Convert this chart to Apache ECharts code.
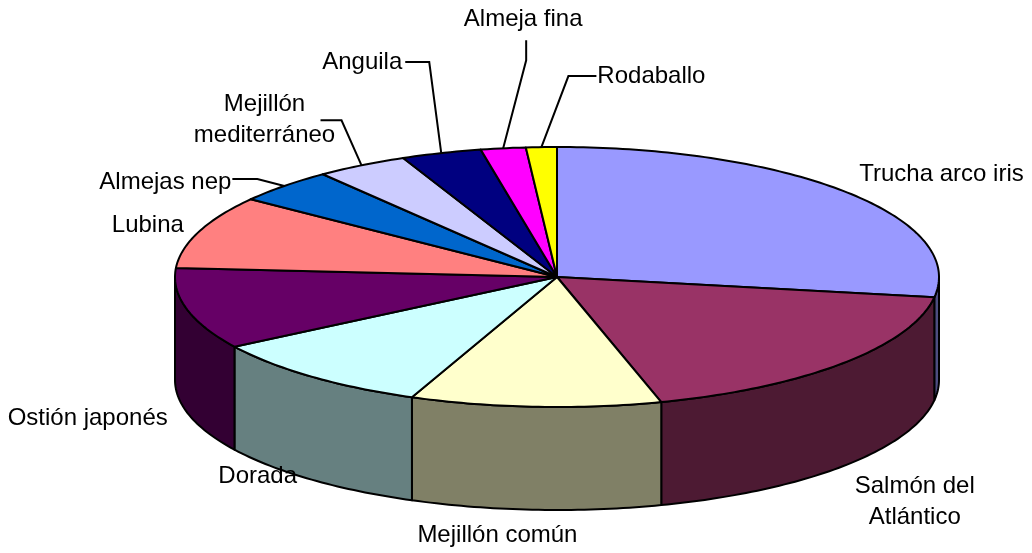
<!DOCTYPE html>
<html>
<head>
<meta charset="utf-8">
<script src="https://cdn.jsdelivr.net/npm/echarts@6/dist/echarts.min.js"></script>
<style>
html, body { margin: 0; padding: 0; background: #fff; }
#main { width: 1032px; height: 553px; }
</style>
</head>
<body>
<div id="main"></div>
<script>
// categories and shares
var species = ['Trucha arco iris', 'Salmón del\nAtlántico', 'Mejillón común', 'Dorada', 'Ostión japonés',
    'Lubina', 'Almejas nep', 'Mejillón\nmediterráneo', 'Anguila', 'Almeja fina', 'Rodaballo'];
var shares = [27.5, 18.1, 10.6, 9.8, 10.1, 9.1, 4.3, 3.9, 3.4, 1.9, 1.3];
var colors = ['#9999FF', '#993366', '#FFFFCC', '#CCFFFF', '#660066', '#FF8080',
    '#0066CC', '#CCCCFF', '#000080', '#FF00FF', '#FFFF00'];

// label placement relative to the slice's rim point (layout only)
var labelLayout = [
    { dx: 94, dy: -18 },
    { dx: 72, dy: 139 },
    { dx: -38, dy: 129 },
    { dx: -54, dy: 100 },
    { dx: -99, dy: 109 },
    { dx: -51, dy: -6 },
    { dx: -119, dy: -4, line: [[-27, -7], [-52, -7]] },
    { dx: -97, dy: -45, line: [[-20, -45], [-41, -45]] },
    { dx: -79, dy: -91, line: [[-12, -91], [-36, -91]] },
    { dx: 20, dy: -129, line: [[23, -88], [23, -108]] },
    { dx: 110, dy: -71, line: [[27, -71], [55, -71]] }
];

var pie = { cx: 557, cy: 277, rx: 382, ry: 130, depth: 103 };
var FONT = '24px "Liberation Sans", Arial, sans-serif';

var total = shares.reduce(function (s, v) { return s + v; }, 0);
var starts = [];
var acc = 0;
for (var i = 0; i < shares.length; i++) {
    starts.push(acc);
    acc += shares[i];
}

function pt(deg, dy) {
    var r = deg * Math.PI / 180;
    return [pie.cx + pie.rx * Math.sin(r), pie.cy - pie.ry * Math.cos(r) + (dy || 0)];
}

function arc(a, b, dy) {
    var pts = [];
    var n = Math.max(2, Math.ceil(Math.abs(b - a)));
    for (var k = 0; k <= n; k++) {
        pts.push(pt(a + (b - a) * k / n, dy));
    }
    return pts;
}

function shade(hex, k) {
    var n = parseInt(hex.slice(1), 16);
    var r = Math.round(((n >> 16) & 255) * k);
    var g = Math.round(((n >> 8) & 255) * k);
    var b = Math.round((n & 255) * k);
    return 'rgb(' + r + ',' + g + ',' + b + ')';
}

function renderItem(params, api) {
    var i = params.dataIndex;
    var v = api.value(0);
    var a = starts[i] / total * 360;
    var b = a + v / total * 360;
    var children = [];

    // side wall, only the front half is visible
    var lo = Math.max(a, 90), hi = Math.min(b, 270);
    if (lo < hi) {
        children.push({
            type: 'polygon',
            z2: 1,
            shape: { points: arc(lo, hi, 0).concat(arc(hi, lo, pie.depth)) },
            style: { fill: shade(colors[i], 0.5), stroke: '#000', lineWidth: 2, lineJoin: 'round' }
        });
    }

    // top face
    children.push({
        type: 'polygon',
        z2: 10,
        shape: { points: [[pie.cx, pie.cy]].concat(arc(a, b, 0)) },
        style: { fill: colors[i], stroke: '#000', lineWidth: 2, lineJoin: 'round' }
    });

    // label
    var rim = pt((a + b) / 2, 0);
    var lay = labelLayout[i];
    children.push({
        type: 'text',
        z2: 20,
        style: {
            x: rim[0] + lay.dx,
            y: rim[1] + lay.dy,
            text: species[i],
            font: FONT,
            fill: '#000',
            lineHeight: 31,
            textAlign: 'center',
            textVerticalAlign: 'middle',
            align: 'center',
            verticalAlign: 'middle'
        }
    });
    if (lay.line) {
        var pts = [rim];
        lay.line.forEach(function (p) { pts.push([rim[0] + p[0], rim[1] + p[1]]); });
        children.push({
            type: 'polyline',
            z2: 20,
            shape: { points: pts },
            style: { stroke: '#000', fill: null, lineWidth: 2 }
        });
    }

    return { type: 'group', children: children };
}

var chart = echarts.init(document.getElementById('main'));
chart.setOption({
    backgroundColor: '#fff',
    animation: false,
    series: [{
        type: 'custom',
        coordinateSystem: 'none',
        silent: true,
        renderItem: renderItem,
        data: shares.map(function (v, i) { return { name: species[i], value: [v] }; })
    }]
});
</script>
</body>
</html>
